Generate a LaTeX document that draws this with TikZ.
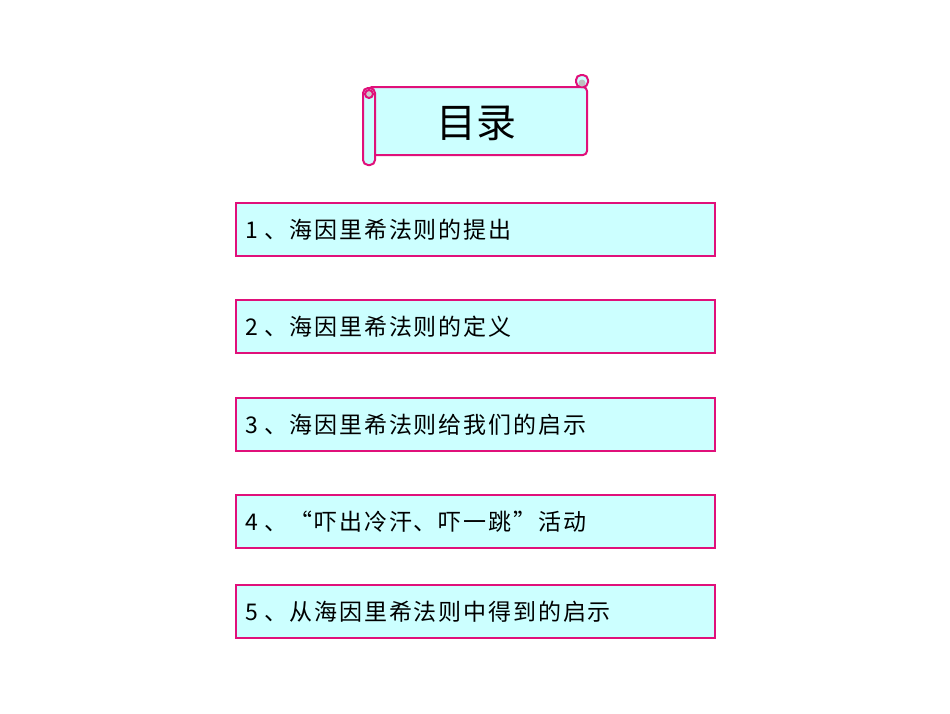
\documentclass[tikz,border=0pt]{standalone}
\usepackage{fontspec}
\newfontfamily\cjk{Noto Sans CJK SC}[LetterSpace=8]
\newfontfamily\cjkt{Noto Sans CJK SC}
\definecolor{bd}{HTML}{E0107A}
\definecolor{fl}{HTML}{CCFFFF}
\begin{document}
\begin{tikzpicture}[x=1pt,y=-1pt,
  item/.style={draw=bd,line width=2pt,fill=fl,minimum width=479pt,minimum height=53pt,anchor=north west,inner sep=0pt},
  lbl/.style={font=\cjk\fontsize{23}{26}\selectfont,anchor=west,inner sep=0pt},
  sc/.style={draw=bd,line width=2pt}]
\useasboundingbox (0,0) rectangle (950,713);
% scroll
\draw[sc,fill=fl,rounded corners=4pt] (368,87) -- (587,87) -- (587,155) -- (372,155) -- cycle;
\draw[sc,fill=fl,rounded corners=5pt] (363,88) rectangle (375,165);
\draw[sc,fill=gray!40] (369,94) circle[radius=4];
\draw[sc,fill=fl,rounded corners=5pt] (576,75) rectangle (588,87);
\fill[gray!50] (582,83) circle[radius=3.5];
\node[font=\cjkt\fontsize{40}{46}\selectfont] (title) at (476,123) {目录};
\foreach \y/\t [count=\i] in {202/{1 、海因里希法则的提出},299/{2 、海因里希法则的定义},397/{3 、海因里希法则给我们的启示},494/{4 、“吓出冷汗、吓一跳”活动},584/{5 、从海因里希法则中得到的启示}}{
  \node[item] (b\i) at (235,\y) {};
  \node[lbl] (t\i) at ([xshift=10pt]b\i.west) {\t};
}
\end{tikzpicture}
\end{document}
